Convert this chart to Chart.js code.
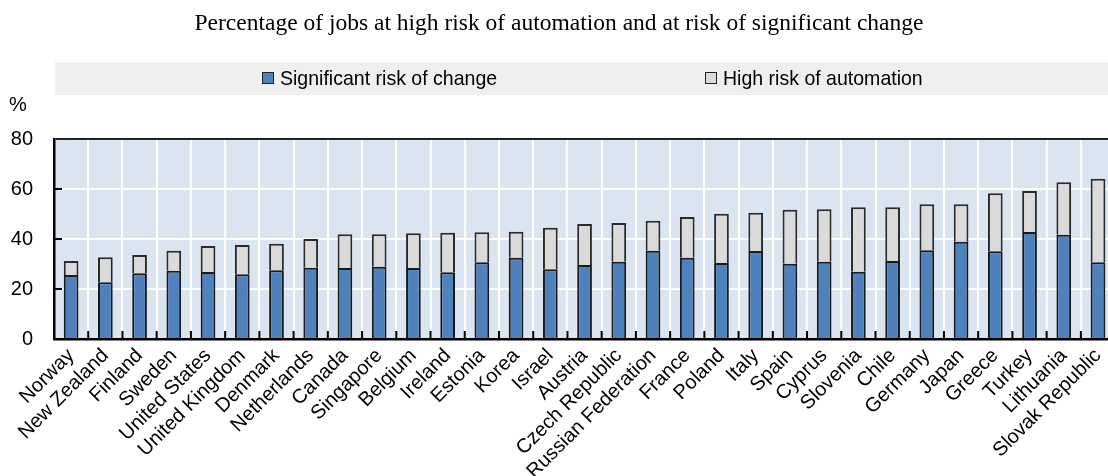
<!DOCTYPE html>
<html>
<head>
<meta charset="utf-8">
<script src="https://cdn.jsdelivr.net/npm/chart.js@4.4.1/dist/chart.umd.min.js"></script>
<style>
  html, body { margin: 0; padding: 0; background: #fff; overflow: hidden; }
  #wrap { width: 1120px; height: 476px; }
</style>
</head>
<body>
<div id="wrap"><canvas id="myChart"></canvas></div>
<script>
// chart data
const countries = [
    'Norway', 'New Zealand', 'Finland', 'Sweden', 'United States', 'United Kingdom',
    'Denmark', 'Netherlands', 'Canada', 'Singapore', 'Belgium', 'Ireland', 'Estonia',
    'Korea', 'Israel', 'Austria', 'Czech Republic', 'Russian Federation', 'France',
    'Poland', 'Italy', 'Spain', 'Cyprus', 'Slovenia', 'Chile', 'Germany', 'Japan',
    'Greece', 'Turkey', 'Lithuania', 'Slovak Republic'
];
const changeRisk = [
    25.6, 22.7, 26.3, 27.3, 26.8, 25.9, 27.5, 28.5, 28.4, 28.9, 28.4, 26.7, 30.7,
    32.5, 27.9, 29.6, 30.9, 35.3, 32.5, 30.4, 35.2, 30.1, 30.9, 26.9, 31.2, 35.5,
    38.9, 35.1, 42.8, 41.7, 30.7
];
const automationRisk = [
    5.6, 10.0, 7.3, 8.0, 10.4, 11.7, 10.6, 11.5, 13.5, 13.0, 13.9, 15.8, 12.0,
    10.4, 16.6, 16.4, 15.5, 12.0, 16.3, 19.7, 15.3, 21.6, 21.0, 25.8, 21.5, 18.4,
    15.0, 23.2, 16.4, 21.0, 33.4
];
const yTicks = [0, 20, 40, 60, 80];

const sans = "'Liberation Sans', Arial, sans-serif";

// background, legend band and little inner ticks
const decor = {
    id: 'decor',
    beforeDraw(chart) {
        const { ctx, chartArea: a } = chart;
        ctx.save();
        ctx.fillStyle = '#dbe5f1';
        ctx.fillRect(a.left, a.top, a.right - a.left, a.bottom - a.top);

        ctx.fillStyle = '#efefef';
        ctx.fillRect(55, 62, chart.width - 55, 33);

        const items = [[262, 0], [705, 1]];
        ctx.textBaseline = 'middle';
        items.forEach(([x, i]) => {
            const ds = chart.data.datasets[i];
            ctx.fillStyle = ds.backgroundColor;
            ctx.fillRect(x, 72, 12, 12);
            ctx.strokeStyle = '#222';
            ctx.lineWidth = 1;
            ctx.strokeRect(x + 0.5, 72.5, 11, 11);
            // slightly condensed text, like the narrow face of the original
            ctx.save();
            ctx.translate(x + 18, 79);
            ctx.scale(0.93, 1);
            ctx.font = '21px ' + sans;
            ctx.fillStyle = '#000';
            ctx.fillText(ds.label, 0, 0);
            ctx.restore();
        });

        ctx.font = '20px ' + sans;
        ctx.fillStyle = '#000';
        ctx.fillText('%', 9, 105);
        ctx.restore();
    },
    afterDatasetsDraw(chart) {
        const { ctx, chartArea: a, scales } = chart;
        ctx.save();
        ctx.strokeStyle = '#000';
        ctx.lineWidth = 2;
        ctx.beginPath();
        for (let i = 1; i < countries.length; i++) {
            const x = (scales.x.getPixelForValue(i - 1) + scales.x.getPixelForValue(i)) / 2;
            ctx.moveTo(x, a.bottom);
            ctx.lineTo(x, a.bottom - 8);
        }
        yTicks.slice(1, -1).forEach(v => {
            const y = scales.y.getPixelForValue(v);
            ctx.moveTo(a.left, y);
            ctx.lineTo(a.left + 8, y);
        });
        ctx.stroke();
        ctx.restore();
    }
};

const data = {
    labels: countries,
    datasets: [{
        label: 'Significant risk of change',
        data: changeRisk,
        backgroundColor: '#4f81bd',
        borderColor: '#1a1a1a',
        borderWidth: 2
    }, {
        label: 'High risk of automation',
        data: automationRisk,
        backgroundColor: '#dadada',
        borderColor: '#2a2a2a',
        borderWidth: 2
    }]
};

const config = {
    type: 'bar',
    data: data,
    options: {
        responsive: true,
        maintainAspectRatio: false,
        animation: false,
        layout: { padding: { left: 0, right: 2, top: 0, bottom: 0 } },
        datasets: {
            bar: { categoryPercentage: 1, barPercentage: 0.43 }
        },
        scales: {
            x: {
                stacked: true,
                afterFit: (s) => { s.height = 137; },
                grid: { color: '#fff', lineWidth: 2, offset: true, drawTicks: false },
                border: { color: '#000', width: 2.5 },
                ticks: {
                    autoSkip: false, maxRotation: 45, minRotation: 45, padding: 5,
                    color: '#000', font: { family: sans, size: 20 }
                }
            },
            y: {
                stacked: true,
                min: 0,
                max: 80,
                afterFit: (s) => { s.width = 54; },
                afterBuildTicks: (s) => { s.ticks = yTicks.map(v => ({ value: v })); },
                grid: {
                    color: (c) => c.tick && c.tick.value === 80 ? '#222' : '#fff',
                    lineWidth: 2, drawTicks: false
                },
                border: { color: '#000', width: 2.5 },
                ticks: { padding: 21, color: '#000', font: { family: sans, size: 20 } }
            }
        },
        plugins: {
            legend: { display: false },
            tooltip: { enabled: false },
            title: {
                display: true,
                text: 'Percentage of jobs at high risk of automation and at risk of significant change',
                color: '#000',
                font: { family: "'Liberation Serif', 'Times New Roman', serif", size: 23.5, weight: 'normal' },
                padding: { top: 10, bottom: 100.8 }
            }
        }
    },
    plugins: [decor]
};

var myChart = new Chart(document.getElementById('myChart'), config);
</script>
</body>
</html>
